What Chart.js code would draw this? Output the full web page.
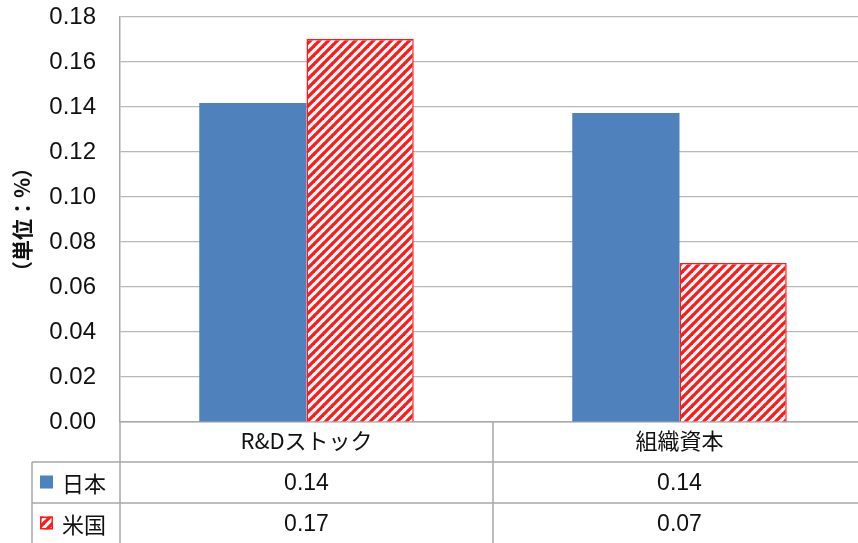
<!DOCTYPE html>
<html><head><meta charset="utf-8">
<script src="https://cdn.jsdelivr.net/npm/chart.js@4"></script>
<style>
html,body{margin:0;padding:0;background:#fff;overflow:hidden;width:858px;height:543px}
#wrap{width:870px;height:543px;position:relative}
</style></head>
<body><div id="wrap"><canvas id="c" width="870" height="543"></canvas></div>
<script>
// ---- data ----
const categories = ['R&Dストック', '組織資本'];
const seriesNames = ['日本', '米国'];
const japanValues = [0.1418, 0.1373];
const usaValues = [0.1702, 0.0707];
const japanTable = ['0.14', '0.14'];
const usaTable = ['0.17', '0.07'];
const yMin = 0, yMax = 0.18, yStep = 0.02;
const yTitle = '（単位：%）';

// ---- styles ----
const BLUE = '#4F81BD';
const RED = '#FF1A1A';
const LINE = '#a8a8a8';
const TXT = '#111111';
const CJK = '"Noto Sans CJK JP", "Liberation Sans", sans-serif';
const LAT = '"Liberation Sans", Arial, sans-serif';

function makeHatch() {
  const s = 9;
  const c = document.createElement('canvas');
  c.width = s; c.height = s;
  const g = c.getContext('2d');
  g.fillStyle = '#fff'; g.fillRect(0, 0, s, s);
  g.strokeStyle = RED; g.lineWidth = 3.3; g.lineCap = 'square';
  for (const o of [-s, 0, s]) {
    g.beginPath(); g.moveTo(o, s); g.lineTo(o + s, 0); g.stroke();
  }
  return g.createPattern(c, 'repeat');
}
const hatch = makeHatch();

const tablePlugin = {
  id: 'dataTable',
  afterDraw(chart) {
    const ctx = chart.ctx;
    const a = chart.chartArea;
    const xs = chart.scales.x;
    const n = categories.length;
    const centers = categories.map((_, i) => xs.getPixelForValue(i));
    const bounds = [a.left];
    for (let i = 0; i < n - 1; i++) bounds.push((centers[i] + centers[i + 1]) / 2);
    bounds.push(a.right);
    const legendLeft = 32;
    const rowTop = [a.bottom, a.bottom + 40, a.bottom + 81, a.bottom + 122];
    ctx.save();
    ctx.strokeStyle = LINE; ctx.lineWidth = 1.5;
    ctx.beginPath();
    ctx.moveTo(legendLeft, rowTop[1]); ctx.lineTo(a.right + 10, rowTop[1]);
    ctx.moveTo(legendLeft, rowTop[2]); ctx.lineTo(a.right + 10, rowTop[2]);
    ctx.moveTo(legendLeft, rowTop[1]); ctx.lineTo(legendLeft, rowTop[3]);
    for (let i = 0; i < bounds.length; i++) {
      ctx.moveTo(bounds[i], a.bottom); ctx.lineTo(bounds[i], rowTop[3]);
    }
    ctx.stroke();

    const rowsData = [japanTable, usaTable];
    for (let r = 0; r < 2; r++) {
      const cy = (rowTop[r + 1] + rowTop[r + 2]) / 2;
      const sx = 40, sy = cy - 7, sw = 13;
      if (r === 0) {
        ctx.fillStyle = BLUE; ctx.fillRect(sx, sy, sw, sw);
      } else {
        ctx.fillStyle = hatch; ctx.fillRect(sx, sy, sw, sw);
        ctx.strokeStyle = RED; ctx.lineWidth = 1.5; ctx.strokeRect(sx + 0.75, sy + 0.75, sw - 1.5, sw - 1.5);
      }
      ctx.fillStyle = TXT;
      ctx.font = '22px ' + CJK;
      ctx.textAlign = 'left'; ctx.textBaseline = 'middle';
      ctx.fillText(seriesNames[r], 62, cy + 1);
      ctx.font = '23px ' + LAT;
      ctx.textAlign = 'center';
      for (let i = 0; i < n; i++) ctx.fillText(rowsData[r][i], centers[i], cy + 1);
    }
    ctx.restore();
  }
};

new Chart(document.getElementById('c'), {
  type: 'bar',
  data: {
    labels: categories,
    datasets: [
      { label: seriesNames[0], data: japanValues, backgroundColor: BLUE, borderWidth: 0 },
      { label: seriesNames[1], data: usaValues, backgroundColor: hatch, borderColor: RED, borderWidth: 1.5 }
    ]
  },
  options: {
    responsive: false,
    animation: false,
    devicePixelRatio: 1,
    layout: { padding: { left: 0, right: 4, top: 17, bottom: 0 } },
    plugins: { legend: { display: false }, tooltip: { enabled: false } },
    datasets: { bar: { categoryPercentage: 0.575, barPercentage: 1.0 } },
    scales: {
      x: {
        grid: { display: false, drawTicks: false },
        border: { display: true, color: LINE, width: 1.5 },
        ticks: { color: TXT, font: { family: CJK, size: 22 }, padding: 5, maxRotation: 0 },
        afterFit(s) { s.height = 121; s.paddingLeft = 0; s.paddingRight = 0; }
      },
      y: {
        min: yMin, max: yMax,
        grid: { color: '#b8b8b8', lineWidth: 1.2, drawTicks: false },
        border: { display: true, color: LINE, width: 1.5 },
        ticks: {
          stepSize: yStep, color: TXT, padding: 24,
          font: { family: LAT, size: 24 },
          callback: v => Number(v).toFixed(2)
        },
        title: { display: true, text: yTitle, color: TXT, font: { family: CJK, size: 21, weight: 'bold' }, padding: { top: 9, bottom: 0 } },
        afterFit(s) { s.width = 120; s.paddingTop = 0; s.paddingBottom = 0; }
      }
    }
  },
  plugins: [tablePlugin]
});
</script>
</body></html>
